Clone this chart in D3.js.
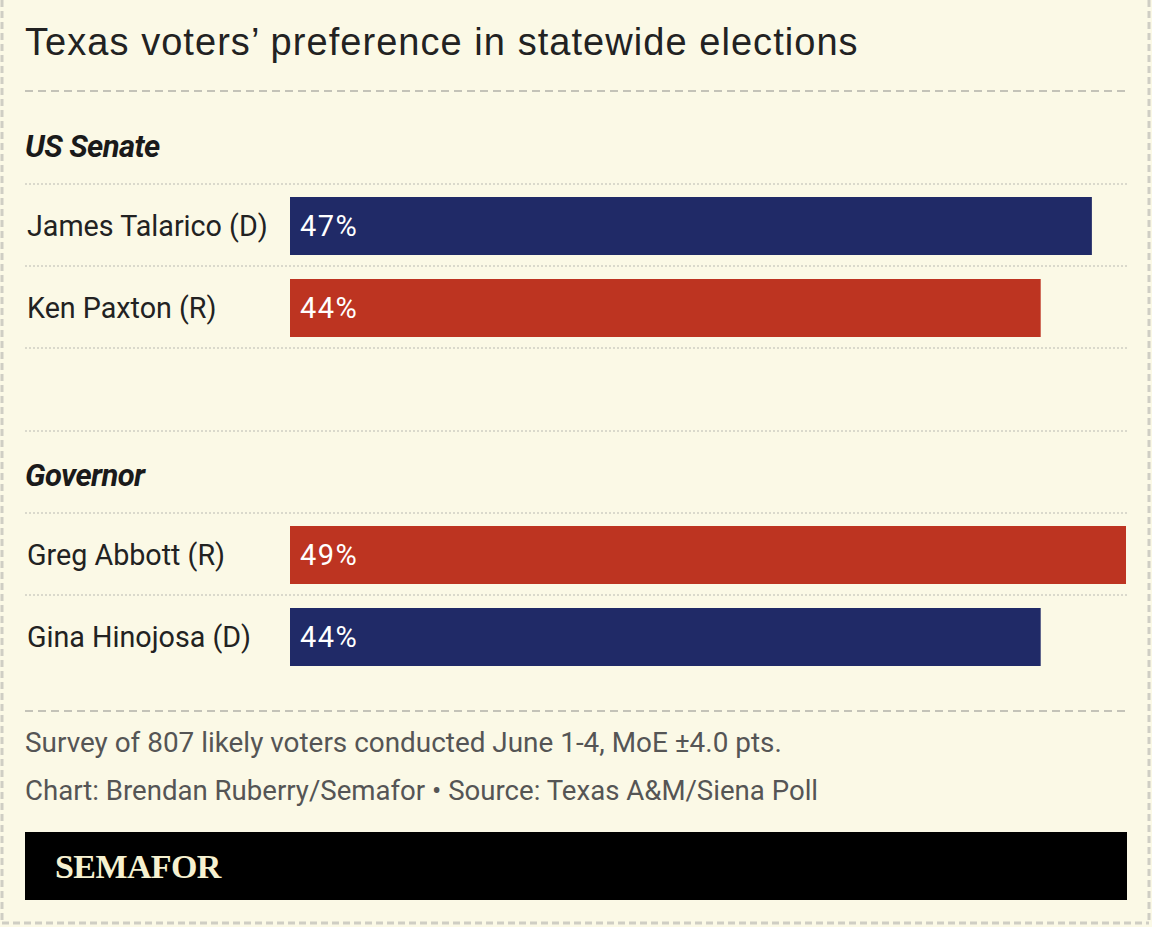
<!DOCTYPE html>
<html>
<head>
<meta charset="utf-8">
<script src="https://cdn.jsdelivr.net/npm/d3@7"></script>
<style>
  body { margin: 0; background: #fbf9e6; }
  svg { display: block; }
</style>
</head>
<body>
<div id="chart-area"></div>
<script>
/* Data */
var races = ["US Senate", "Governor"];
var candidates = ["James Talarico (D)", "Ken Paxton (R)", "Greg Abbott (R)", "Gina Hinojosa (D)"];
var candidateRace = ["US Senate", "US Senate", "Governor", "Governor"];
var parties = ["D", "R", "R", "D"];
var shares = [47, 44, 49, 44];

var W = 1152, H = 927;
var left = 25, right = 1127;

var svg = d3.select("#chart-area").append("svg")
  .attr("width", W)
  .attr("height", H);

svg.append("rect").attr("width", W).attr("height", H).attr("fill", "#fbf9e6");

/* outer dashed frame */
var frame = "#cfcec4";
[[2, 0, 2, 923], [1149, 0, 1149, 923], [2, 923, 1149, 923]].forEach(function(l) {
  svg.append("line")
    .attr("x1", l[0]).attr("y1", l[1]).attr("x2", l[2]).attr("y2", l[3])
    .attr("stroke", frame).attr("stroke-width", 3).attr("stroke-dasharray", "7,4");
});

/* Title */
svg.append("text")
  .attr("x", left).attr("y", 55)
  .attr("font-family", "Liberation Sans, Arial, sans-serif")
  .attr("font-size", "38px")
  .attr("letter-spacing", "1.05px")
  .attr("fill", "#222")
  .text("Texas voters\u2019 preference in statewide elections");

function dashed(y) {
  svg.append("line")
    .attr("x1", left).attr("x2", right).attr("y1", y).attr("y2", y)
    .attr("stroke", "#c4c3b8").attr("stroke-width", 2).attr("stroke-dasharray", "8,5");
}
function dotted(y) {
  svg.append("line")
    .attr("x1", left).attr("x2", right).attr("y1", y).attr("y2", y)
    .attr("stroke", "#cfcec4").attr("stroke-width", 1.5).attr("stroke-dasharray", "2,2");
}

dashed(91);

/* Scales */
var x = d3.scaleLinear()
  .domain([0, d3.max(shares)])
  .range([290, 1126]);

var sectionTop = d3.scaleOrdinal()
  .domain(races)
  .range([184, 513]);

var rowH = 82, barH = 58, barOff = 13;
var colour = d3.scaleOrdinal().domain(["D", "R"]).range(["#202a67", "#bd3421"]);

var rows = candidates.map(function(c, i) {
  var race = candidateRace[i];
  var k = candidateRace.slice(0, i).filter(function(r) { return r === race; }).length;
  return { name: c, race: race, party: parties[i], value: shares[i], y: sectionTop(race) + k * rowH };
});

/* Section headers and separators */
races.forEach(function(r) {
  var top = sectionTop(r);
  svg.append("text")
    .attr("x", left).attr("y", top - 27)
    .attr("font-family", "Roboto, 'Noto Sans', sans-serif")
    .attr("font-size", "31px")
    .attr("font-weight", "bold")
    .attr("font-style", "italic")
    .attr("letter-spacing", "-0.6px")
    .attr("fill", "#1a1a1a")
    .text(r);
  dotted(top);
});
dotted(431);

var g = svg.selectAll("g.row")
  .data(rows)
  .enter()
  .append("g")
    .attr("class", "row")
    .attr("transform", function(d) { return "translate(0," + d.y + ")"; });

g.append("rect")
  .attr("x", x(0))
  .attr("y", barOff)
  .attr("width", function(d) { return x(d.value) - x(0); })
  .attr("height", barH)
  .attr("fill", function(d) { return colour(d.party); });

g.append("text")
  .attr("x", left + 2)
  .attr("y", barOff + barH / 2 + 10)
  .attr("font-family", "Roboto, 'Noto Sans', sans-serif")
  .attr("font-size", "28.7px")
  .attr("fill", "#222")
  .text(function(d) { return d.name; });

g.append("text")
  .attr("x", x(0) + 10)
  .attr("y", barOff + barH / 2 + 10)
  .attr("font-family", "Roboto, 'Noto Sans', sans-serif")
  .attr("font-size", "29px")
  .attr("letter-spacing", "1.5px")
  .attr("fill", "#ffffff")
  .text(function(d) { return d.value + "%"; });

g.filter(function(d, i) { return i !== 1 && i !== 3; })
  .append("line")
  .attr("x1", left).attr("x2", right).attr("y1", rowH).attr("y2", rowH)
  .attr("stroke", "#cfcec4").attr("stroke-width", 1.5).attr("stroke-dasharray", "2,2");
dotted(348);

/* Footer */
dashed(711);

svg.append("text")
  .attr("x", left).attr("y", 752)
  .attr("font-family", "Roboto, 'Noto Sans', sans-serif")
  .attr("font-size", "27.9px")
  .attr("fill", "#555")
  .text("Survey of 807 likely voters conducted June 1-4, MoE \u00b14.0 pts.");

svg.append("text")
  .attr("x", left).attr("y", 800)
  .attr("font-family", "Roboto, 'Noto Sans', sans-serif")
  .attr("font-size", "27.6px")
  .attr("fill", "#555")
  .text("Chart: Brendan Ruberry/Semafor \u2022 Source: Texas A&M/Siena Poll");

svg.append("rect")
  .attr("x", left).attr("y", 832)
  .attr("width", right - left).attr("height", 68)
  .attr("fill", "#000");

svg.append("text")
  .attr("x", 55).attr("y", 878)
  .attr("font-family", "'Liberation Serif', 'DejaVu Serif', serif")
  .attr("font-size", "34px")
  .attr("font-weight", "bold")
  .attr("letter-spacing", "-0.6px")
  .attr("fill", "#f6f1d0")
  .text("SEMAFOR");
</script>
</body>
</html>
